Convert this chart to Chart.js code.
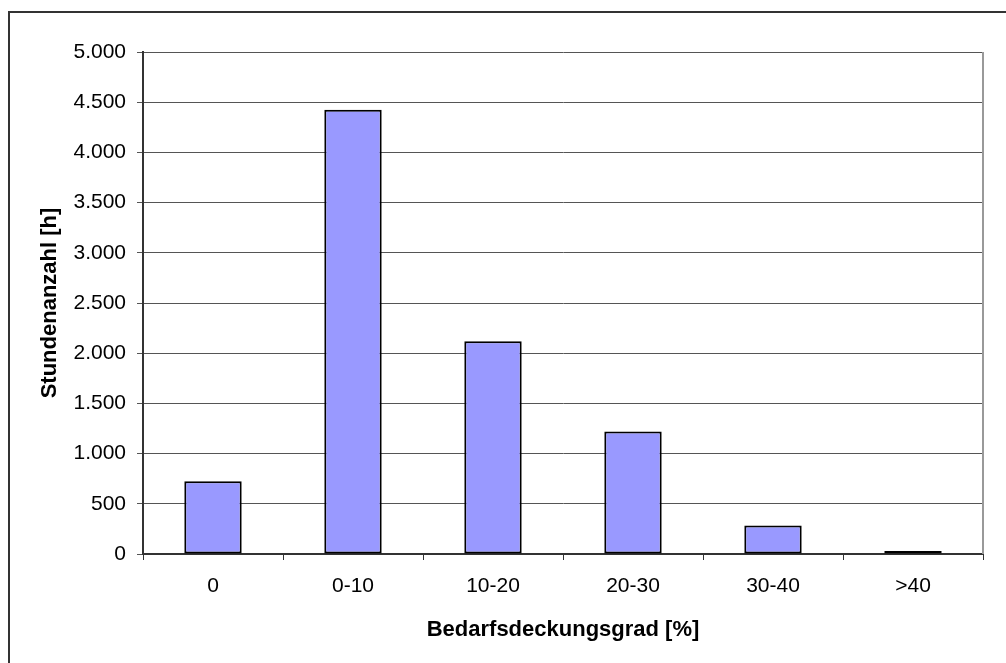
<!DOCTYPE html>
<html>
<head>
<meta charset="utf-8">
<script src="https://cdn.jsdelivr.net/npm/chart.js@4"></script>
<style>
  html, body { margin: 0; padding: 0; background: #fff; overflow: hidden; }
  #wrap { position: relative; width: 1006px; height: 663px; }
  #frame {
    position: absolute; left: 8px; top: 11px; width: 1100px; height: 700px;
    border: 2px solid #333; pointer-events: none;
  }
  canvas { position: absolute; left: 0; top: 0; }
</style>
</head>
<body>
<div id="wrap">
  <div id="frame"></div>
  <canvas id="chart" width="1006" height="663"></canvas>
</div>
<script>
// Daten
const categories = ['0', '0-10', '10-20', '20-30', '30-40', '>40'];
const hours = [725, 4425, 2120, 1220, 285, 30];
const yTicks = [0, 500, 1000, 1500, 2000, 2500, 3000, 3500, 4000, 4500, 5000];

function formatDe(v) {
  return String(v).replace(/\B(?=(\d{3})+(?!\d))/g, '.');
}

// rechte Kante der Zeichenfläche grau
const plotEdge = {
  id: 'plotEdge',
  afterDraw(chart) {
    const a = chart.chartArea;
    const ctx = chart.ctx;
    ctx.save();
    ctx.strokeStyle = '#999';
    ctx.lineWidth = 2;
    ctx.beginPath();
    ctx.moveTo(a.right, a.top);
    ctx.lineTo(a.right, a.bottom);
    ctx.stroke();
    ctx.restore();
  }
};

Chart.defaults.font.family = '"Liberation Sans", Arial, sans-serif';
Chart.defaults.color = '#000';

new Chart(document.getElementById('chart'), {
  type: 'bar',
  data: {
    labels: categories,
    datasets: [{
      data: hours,
      backgroundColor: '#9999ff',
      borderColor: '#000',
      borderWidth: 2,
      borderSkipped: false,
      categoryPercentage: 1,
      barPercentage: 0.41
    }]
  },
  options: {
    responsive: false,
    animation: false,
    devicePixelRatio: 1,
    layout: { padding: { left: 0, right: 23, top: 52, bottom: 0 } },
    plugins: { legend: { display: false }, tooltip: { enabled: false } },
    scales: {
      x: {
        grid: { display: true, drawOnChartArea: false, offset: true, tickLength: 6, color: '#333' },
        border: { color: '#333', width: 2 },
        ticks: { font: { size: 21 }, padding: 14, maxRotation: 0 },
        title: {
          display: true, text: 'Bedarfsdeckungsgrad [%]',
          font: { size: 22, weight: 'bold' }, padding: { top: 0, bottom: 20 }
        },
        afterFit(scale) { scale.height = 109; }
      },
      y: {
        min: 0, max: 5000,
        afterBuildTicks(scale) { scale.ticks = yTicks.map(v => ({ value: v })); },
        grid: { color: '#555', lineWidth: 1, tickLength: 6 },
        border: { color: '#333', width: 2 },
        ticks: { font: { size: 21 }, padding: 11, callback: v => formatDe(v) },
        title: {
          display: true, text: 'Stundenanzahl [h]',
          font: { size: 22, weight: 'bold' }, padding: { top: 37, bottom: 0 }
        },
        afterFit(scale) { scale.width = 143; }
      }
    }
  },
  plugins: [plotEdge]
});
</script>
</body>
</html>
